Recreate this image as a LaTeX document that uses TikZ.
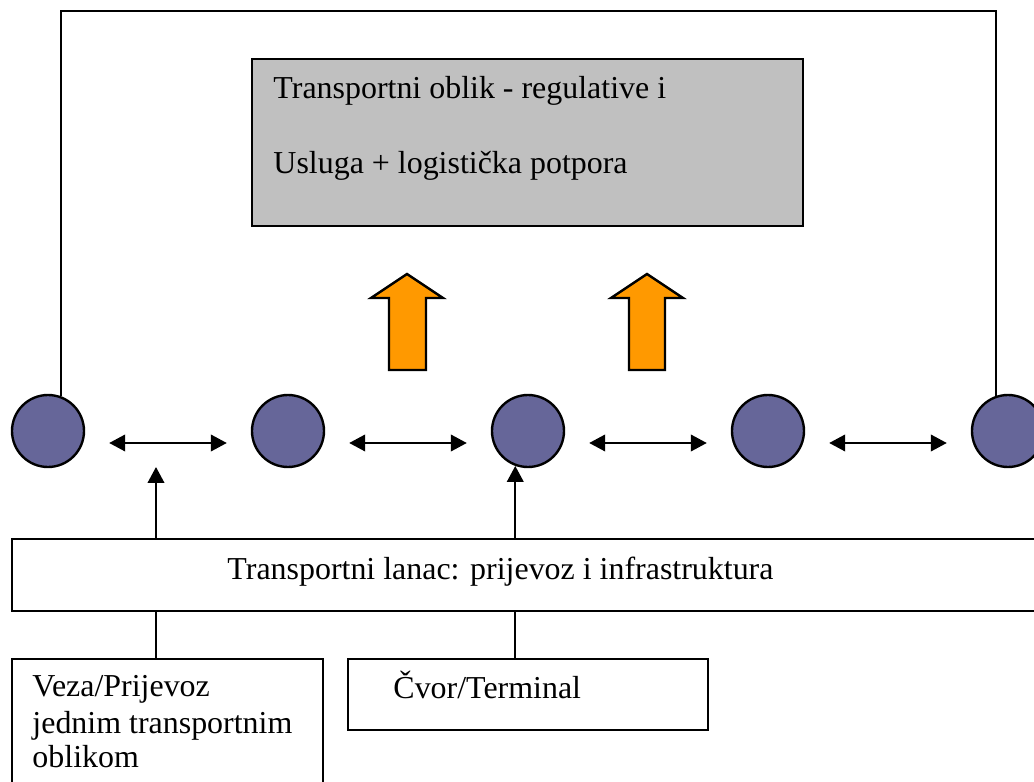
\documentclass[tikz,border=0pt]{standalone}
\usepackage{fontspec}
\setmainfont{Liberation Serif}
\usetikzlibrary{arrows.meta,calc}
\newlength\pxu
\setlength\pxu{0.4196pt}
\definecolor{nodeblue}{RGB}{102,102,153}
\definecolor{boxgray}{RGB}{192,192,192}
\definecolor{uporange}{RGB}{255,153,0}
\tikzset{
  ln/.style={line width=1pt},
  box/.style={ln, draw=black, rectangle, inner sep=0pt},
  dot/.style={ln, draw=black, fill=nodeblue, circle, inner sep=0pt, minimum size=72\pxu},
  txt/.style={anchor=base west, inner sep=0pt, font=\fontsize{13.4}{15}\selectfont},
  dbl/.style={ln, {Triangle[length=6.7pt,width=6.9pt]}-{Triangle[length=6.7pt,width=6.9pt]}},
  upar/.style={ln, -{Triangle[length=6.7pt,width=6.9pt]}},
  fat/.style={ln, draw=black, fill=uporange, line join=miter}
}
\begin{document}
\begin{tikzpicture}[x=\pxu, y=-\pxu]
\useasboundingbox (0,0) rectangle (1034,782);
% top gray box
\node[box, fill=boxgray, minimum width=551\pxu, minimum height=167\pxu] (top) at (527.5,142.5) {};
\node[txt] (t1) at (273,99) {Transportni oblik - regulative i};
\node[txt] (t2) at (273,174) {Usluga + logistička potpora};
% circles
\node[dot] (c1) at (48,431) {};
\node[dot] (c2) at (288,431) {};
\node[dot] (c3) at (528,431) {};
\node[dot] (c4) at (768,431) {};
\node[dot] (c5) at (1008,431) {};
% frame
\coordinate (topmid) at (528,11);
\draw[ln] (c1.70.5) |- (topmid) -| (c5.109.5);
% double arrows
\draw[dbl] ($(c1.east)+(24,12)$) -- ($(c2.west)+(-24,12)$);
\draw[dbl] ($(c2.east)+(24,12)$) -- ($(c3.west)+(-24,12)$);
\draw[dbl] ($(c3.east)+(24,12)$) -- ($(c4.west)+(-24,12)$);
\draw[dbl] ($(c4.east)+(24,12)$) -- ($(c5.west)+(-24,12)$);
% orange arrows
\draw[fat] (389,370) -- (389,298) -- (371,298) -- (407,274) -- (443,298) -- (426,298) -- (426,370) -- cycle;
\draw[fat] (629,370) -- (629,298) -- (611,298) -- (647,274) -- (683,298) -- (665,298) -- (665,370) -- cycle;
% chain box
\node[box, minimum width=1036\pxu, minimum height=72\pxu] (lanac) at (530,575) {};
\node[txt] (lt) at (227,580) {Transportni lanac: prijevoz i infrastruktura};
% bottom boxes
\node[box, minimum width=311\pxu, minimum height=150\pxu] (veza) at (167.5,734) {};
\node[txt] (v1) at (32,697) {Veza/Prijevoz};
\node[txt] (v2) at (32,733) {jednim transportnim};
\node[txt] (v3) at (32,768) {oblikom};
\node[box, minimum width=360\pxu, minimum height=71\pxu] (cvor) at (528,694.5) {};
\node[txt] (ct) at (393,699) {Čvor/Terminal};
% connectors
\coordinate (tip1) at (156,467);
\draw[upar] (lanac.north -| tip1) -- (tip1);
\draw[upar] (lanac.north -| c3.250.5) -- (c3.250.5);
\draw[ln] (lanac.south -| tip1) -- (veza.north -| tip1);
\draw[ln] (lanac.south -| c3.250.5) -- (cvor.north -| c3.250.5);
\end{tikzpicture}
\end{document}
